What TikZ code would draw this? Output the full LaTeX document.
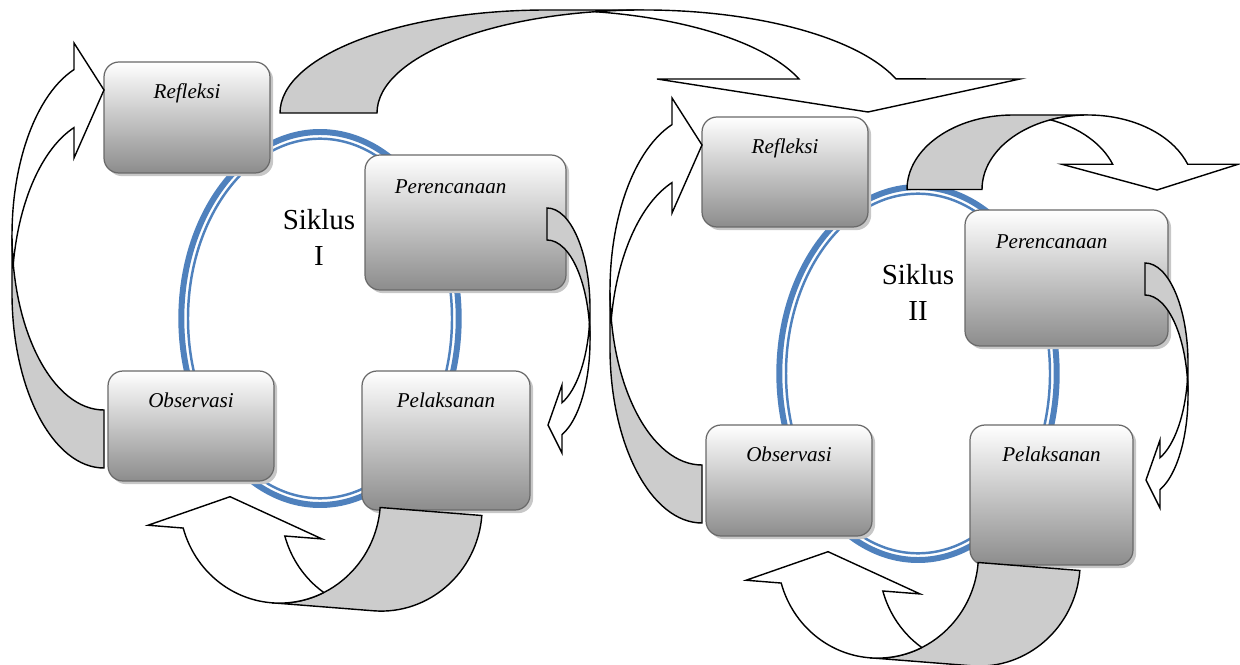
\documentclass[tikz,border=0pt]{standalone}
\usepackage{fontspec}
\setmainfont{Liberation Serif}
\usepackage{tikz}
\usetikzlibrary{shadows}

\definecolor{ringblue}{RGB}{79,129,189}
\definecolor{boxedge}{RGB}{105,105,105}

\begin{document}
\begin{tikzpicture}[x={(0.02cm,0)},y={(0,-0.02cm)},
    stage/.style={draw=boxedge,line width=0.7pt,rounded corners=8.5pt,
      top color=white,bottom color=black!45,
      drop shadow={shadow xshift=1.8pt,shadow yshift=-1.8pt,fill=black!22,opacity=1}},
    stagename/.style={anchor=base,yshift=-21pt,font=\fontsize{12}{14}\selectfont\itshape},
    cyclename/.style={align=center,font=\fontsize{16.5}{20}\selectfont},
    backband/.style={draw=black,line width=0.8pt,fill=black!20},
    frontband/.style={draw=black,line width=0.8pt,fill=white}]
  \useasboundingbox (0,0) rectangle (1240,665);

  % double ring of each cycle
  \foreach \dx/\dy in {0/0,598/55}{
    \draw[ringblue,line width=3.4pt] (320+\dx,318.5+\dy) ellipse [x radius=138.7,y radius=186.5];
    \draw[ringblue,line width=1.4pt] (320+\dx,318.5+\dy) ellipse [x radius=132,y radius=179.8];
  }

  % Siklus I
  \node[stage,minimum width=3.32cm,minimum height=2.22cm,label={[stagename]north:Refleksi}] (ref1) at (187,117.5) {};
  \node[stage,minimum width=4.02cm,minimum height=2.70cm,label={[stagename,xshift=-8.5pt,yshift=-1.5pt]north:Perencanaan}] (ren1) at (465.5,222.5) {};
  \node[stage,minimum width=3.32cm,minimum height=2.20cm,label={[stagename]north:Observasi}] (obs1) at (191,426) {};
  \node[stage,minimum width=3.36cm,minimum height=2.78cm,label={[stagename]north:Pelaksanan}] (pel1) at (446,440.5) {};
  \node[cyclename] (sik1) at (319,237.5) {Siklus\\I};

  % Siklus II
  \node[stage,minimum width=3.32cm,minimum height=2.20cm,label={[stagename]north:Refleksi}] (ref2) at (785,172) {};
  \node[stage,minimum width=4.06cm,minimum height=2.72cm,label={[stagename,xshift=-8.5pt,yshift=-1.5pt]north:Perencanaan}] (ren2) at (1066.5,278) {};
  \node[stage,minimum width=3.32cm,minimum height=2.22cm,label={[stagename]north:Observasi}] (obs2) at (789,480.5) {};
  \node[stage,minimum width=3.26cm,minimum height=2.80cm,label={[stagename]north:Pelaksanan}] (pel2) at (1051.5,495) {};
  \node[cyclename] (sik2) at (918,292.5) {Siklus\\II};

  % curved block arrows inside each cycle
  \foreach \dx/\dy in {0/0,598/55}{
    \begin{scope}[shift={(\dx,\dy)}]
      % perencanaan -> pelaksanan
      \draw[backband] (547,208) arc[start angle=-90,end angle=0,x radius=43,y radius=100.5]
        -- (590,340.5) arc[start angle=0,end angle=-90,x radius=43,y radius=100.5] -- cycle;
      \draw[frontband] (589.45,324.5) arc[start angle=-9.16,end angle=69.6,x radius=43,y radius=100.5]
        -- (562,453) -- (548,425) -- (562,385) -- (562,402.7)
        arc[start angle=69.6,end angle=9.16,x radius=43,y radius=100.5] -- cycle;
      % pelaksanan -> observasi
      \begin{scope}[rotate around={-4.5:(431,511.5)}]
        \draw[backband] (482,511.5) arc[start angle=0,end angle=90,x radius=100.5,y radius=103.5]
          -- (279.5,615) arc[start angle=90,end angle=0,x radius=100.5,y radius=103.5] -- cycle;
        \draw[frontband] (330.5,600.7) arc[start angle=59.5,end angle=159.7,x radius=100.5,y radius=103.5]
          -- (150,547.4) -- (229.5,512.5) -- (324.5,547.4) -- (287.2,547.4)
          arc[start angle=159.7,end angle=120.5,x radius=100.5,y radius=103.5] -- cycle;
      \end{scope}
      % observasi -> refleksi
      \draw[backband] (104,468) arc[start angle=90,end angle=180,x radius=92,y radius=175]
        -- (12,235) arc[start angle=180,end angle=90,x radius=92,y radius=175] -- cycle;
      \draw[frontband] (13.3,264) arc[start angle=170.46,end angle=250.97,x radius=92,y radius=175]
        -- (74,43) -- (104,90) -- (74,158) -- (74,127.6)
        arc[start angle=250.97,end angle=189.54,x radius=92,y radius=175] -- cycle;
    \end{scope}
  }

  % refleksi I -> siklus II
  \draw[backband] (280,113) arc[start angle=180,end angle=270,x radius=267,y radius=103]
    -- (644,10) arc[start angle=270,end angle=180,x radius=267,y radius=103] -- cycle;
  \draw[frontband] (595.5,11.7) arc[start angle=259.54,end angle=340.7,x radius=267,y radius=103]
    -- (1020,79) -- (868,112) -- (657,79) -- (799,79)
    arc[start angle=340.7,end angle=280.46,x radius=267,y radius=103] -- cycle;

  % refleksi II -> onward
  \draw[backband] (907,189.5) arc[start angle=180,end angle=270,x radius=106,y radius=74.5]
    -- (1088,115) arc[start angle=270,end angle=180,x radius=106,y radius=74.5] -- cycle;
  \draw[frontband] (1050.5,119.8) arc[start angle=249.3,end angle=340.2,x radius=106,y radius=74.5]
    -- (1238,164.3) -- (1157,190) -- (1062,164.3) -- (1112.7,164.3)
    arc[start angle=340.2,end angle=290.7,x radius=106,y radius=74.5] -- cycle;
\end{tikzpicture}
\end{document}
